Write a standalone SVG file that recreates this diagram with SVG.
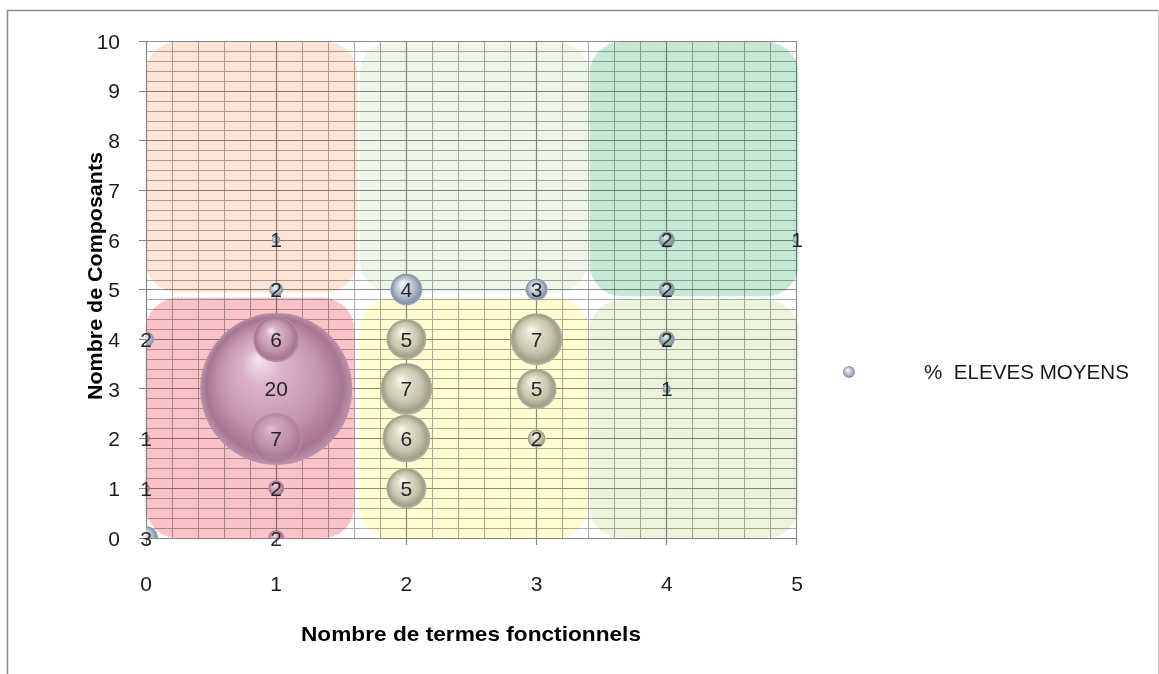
<svg xmlns="http://www.w3.org/2000/svg" width="1159" height="674" viewBox="0 0 1159 674">
<style>
.num{font-family:"Liberation Sans",Arial,sans-serif;font-size:21px;fill:#1a1a1a}
.lbl{font-family:"Liberation Sans",Arial,sans-serif;font-size:21px;fill:#262626;text-anchor:middle}
.ttl{font-family:"Liberation Sans",Arial,sans-serif;font-size:21px;font-weight:bold;fill:#000;text-anchor:middle}
.zone{mix-blend-mode:multiply;stroke-width:1.5;stroke-dasharray:1.5 1.5}
</style>
<defs>
<clipPath id="plot"><rect x="146" y="41" width="651" height="497"/></clipPath>
<radialGradient id="gB" cx="50%" cy="50%" r="50%" fx="38%" fy="30%">
<stop offset="0" stop-color="#FFFFFF"/><stop offset="0.25" stop-color="#DDE3EC"/><stop offset="0.65" stop-color="#AEB8C9"/><stop offset="0.9" stop-color="#8693A8"/><stop offset="1" stop-color="#A3ADBD"/>
</radialGradient>
<radialGradient id="gP" cx="50%" cy="50%" r="50%" fx="38%" fy="30%">
<stop offset="0" stop-color="#F6E6EE"/><stop offset="0.25" stop-color="#DDB4CA"/><stop offset="0.65" stop-color="#C495AF"/><stop offset="0.9" stop-color="#A67590"/><stop offset="1" stop-color="#BC93AA"/>
</radialGradient>
<radialGradient id="gO" cx="50%" cy="50%" r="50%" fx="38%" fy="30%">
<stop offset="0" stop-color="#FBFBF0"/><stop offset="0.25" stop-color="#E2E2CE"/><stop offset="0.65" stop-color="#C6C7AE"/><stop offset="0.9" stop-color="#9FA08A"/><stop offset="1" stop-color="#B5B6A2"/>
</radialGradient>
<radialGradient id="gT" cx="50%" cy="50%" r="50%" fx="38%" fy="30%">
<stop offset="0" stop-color="#F5FAFA"/><stop offset="0.3" stop-color="#BDD0D3"/><stop offset="0.7" stop-color="#8CA5AA"/><stop offset="1" stop-color="#7A9298"/>
</radialGradient>
</defs>
<rect width="1159" height="674" fill="#FFFFFF"/>
<path d="M7.5 674 V10.5 H1158" fill="none" stroke="#8C8C8C" stroke-width="1.5"/>
<path d="M1158.5 10 V674" fill="none" stroke="#C8C8C8" stroke-width="1"/>

<g id="grid" fill="none">
<path stroke="#ADADAD" stroke-width="1" d="M172.5 41V538M198.5 41V538M224.5 41V538M250.5 41V538M302.5 41V538M328.5 41V538M354.5 41V538M380.5 41V538M432.5 41V538M458.5 41V538M484.5 41V538M510.5 41V538M562.5 41V538M588.5 41V538M614.5 41V538M640.5 41V538M692.5 41V538M718.5 41V538M744.5 41V538M770.5 41V538
M146 51.5H797M146 61.5H797M146 71.5H797M146 81.5H797M146 101.5H797M146 111.5H797M146 121.5H797M146 130.5H797M146 150.5H797M146 160.5H797M146 170.5H797M146 180.5H797M146 200.5H797M146 210.5H797M146 220.5H797M146 230.5H797M146 250.5H797M146 260.5H797M146 270.5H797M146 280.5H797M146 299.5H797M146 309.5H797M146 319.5H797M146 329.5H797M146 349.5H797M146 359.5H797M146 369.5H797M146 378.5H797M146 398.5H797M146 408.5H797M146 418.5H797M146 428.5H797M146 448.5H797M146 458.5H797M146 468.5H797M146 478.5H797M146 498.5H797M146 508.5H797M146 518.5H797M146 528.5H797"/>
<path stroke="#8A8A8A" stroke-width="1.2" d="M276.5 41V538M406.5 41V538M536.5 41V538M666.5 41V538M796.5 41V538
M146 41.5H797M146 91.5H797M146 140.5H797M146 190.5H797M146 240.5H797M146 289.5H797M146 339.5H797M146 388.5H797M146 438.5H797M146 488.5H797"/>
</g>

<g id="zones">
<rect id="zone-tl" class="zone" x="146" y="42" width="211" height="250" rx="32" fill="#FCE4D6" stroke="#FCE4D6"/>
<rect id="zone-tm" class="zone" x="360" y="42" width="228" height="250" rx="32" fill="#EEF6EA" stroke="#EEF6EA"/>
<rect id="zone-tr" class="zone" x="590" y="42" width="208" height="254" rx="32" fill="#C6E9D5" stroke="#C6E9D5"/>
<rect id="zone-bl" class="zone" x="146" y="298" width="208" height="240" rx="32" fill="#F9C3C9" stroke="#F9C3C9"/>
<rect id="zone-bm" class="zone" x="360" y="298" width="228" height="240" rx="32" fill="#FFFDD2" stroke="#FFFDD2"/>
<rect id="zone-br" class="zone" x="590" y="300" width="208" height="238" rx="32" fill="#EBF3DD" stroke="#EBF3DD"/>
</g>

<g id="axes" fill="none" stroke="#868686" stroke-width="1.2">
<path d="M146.5 41V538M146 538.5H797"/>
<path d="M139 41.5H146M139 91.5H146M139 140.5H146M139 190.5H146M139 240.5H146M139 289.5H146M139 339.5H146M139 388.5H146M139 438.5H146M139 488.5H146M139 538.5H146"/>
<path d="M146.5 538V545M276.5 538V545M406.5 538V545M536.5 538V545M666.5 538V545M796.5 538V545"/>
</g>

<g id="y-labels" class="num" text-anchor="end">
<text x="120" y="48.5">10</text><text x="120" y="98">9</text><text x="120" y="148">8</text><text x="120" y="197.5">7</text><text x="120" y="247.5">6</text><text x="120" y="297">5</text><text x="120" y="346.5">4</text><text x="120" y="396.5">3</text><text x="120" y="446">2</text><text x="120" y="496">1</text><text x="120" y="545.5">0</text>
</g>
<g id="x-labels" class="num" text-anchor="middle">
<text x="146" y="590.5">0</text><text x="276.2" y="590.5">1</text><text x="406.4" y="590.5">2</text><text x="536.6" y="590.5">3</text><text x="666.8" y="590.5">4</text><text x="797" y="590.5">5</text>
</g>

<g id="bubbles" clip-path="url(#plot)">
<circle cx="146" cy="538" r="12" fill="url(#gB)"/>
<circle cx="146" cy="339.2" r="8" fill="url(#gB)"/>
<circle cx="146" cy="438.6" r="4" fill="url(#gP)"/>
<circle cx="146" cy="488.3" r="4" fill="url(#gP)"/>
<circle cx="276.2" cy="388.9" r="76" fill="url(#gP)"/>
<circle cx="276.2" cy="438.6" r="26" fill="url(#gP)" opacity="0.55"/>
<circle cx="276.2" cy="339.2" r="23" fill="url(#gP)"/>
<circle cx="276.2" cy="488.3" r="8" fill="url(#gP)"/>
<circle cx="276.2" cy="538" r="8" fill="url(#gP)"/>
<circle cx="276.2" cy="289.5" r="7" fill="url(#gB)"/>
<circle cx="276.2" cy="239.8" r="4" fill="url(#gB)"/>
<circle cx="406.4" cy="289.5" r="16" fill="url(#gB)"/>
<circle cx="406.4" cy="339.2" r="20" fill="url(#gO)"/>
<circle cx="406.4" cy="388.9" r="26" fill="url(#gO)"/>
<circle cx="406.4" cy="438.6" r="24" fill="url(#gO)"/>
<circle cx="406.4" cy="488.3" r="20" fill="url(#gO)"/>
<circle cx="536.6" cy="289.5" r="11" fill="url(#gB)"/>
<circle cx="536.6" cy="339.2" r="26" fill="url(#gO)"/>
<circle cx="536.6" cy="388.9" r="20" fill="url(#gO)"/>
<circle cx="536.6" cy="438.6" r="9" fill="url(#gO)"/>
<circle cx="666.8" cy="239.8" r="8" fill="url(#gT)"/>
<circle cx="666.8" cy="289.5" r="8" fill="url(#gT)"/>
<circle cx="666.8" cy="339.2" r="8" fill="url(#gT)"/>
<circle cx="666.8" cy="388.9" r="4" fill="url(#gT)"/>
<circle cx="797" cy="239.8" r="4" fill="url(#gT)"/>
</g>

<g id="data-labels" class="lbl">
<text x="146" y="545.5">3</text>
<text x="146" y="346.7">2</text>
<text x="146" y="446.1">1</text>
<text x="146" y="495.8">1</text>
<text x="276.2" y="396.4">20</text>
<text x="276.2" y="446.1">7</text>
<text x="276.2" y="346.7">6</text>
<text x="276.2" y="495.8">2</text>
<text x="276.2" y="545.5">2</text>
<text x="276.2" y="297">2</text>
<text x="276.2" y="247.3">1</text>
<text x="406.4" y="297">4</text>
<text x="406.4" y="346.7">5</text>
<text x="406.4" y="396.4">7</text>
<text x="406.4" y="446.1">6</text>
<text x="406.4" y="495.8">5</text>
<text x="536.6" y="297">3</text>
<text x="536.6" y="346.7">7</text>
<text x="536.6" y="396.4">5</text>
<text x="536.6" y="446.1">2</text>
<text x="666.8" y="247.3">2</text>
<text x="666.8" y="297">2</text>
<text x="666.8" y="346.7">2</text>
<text x="666.8" y="396.4">1</text>
<text x="797" y="247.3">1</text>
</g>

<g id="axis-titles">
<text class="ttl" x="471" y="641" textLength="340" lengthAdjust="spacingAndGlyphs">Nombre de termes fonctionnels</text>
<text class="ttl" transform="translate(102 276) rotate(-90)" x="0" y="0" textLength="248" lengthAdjust="spacingAndGlyphs">Nombre de Composants</text>
</g>

<g id="legend">
<circle cx="849" cy="372" r="6" fill="url(#gB)"/>
<text x="924" y="379" xml:space="preserve" font-family="Liberation Sans, Arial, sans-serif" font-size="20" fill="#1a1a1a" textLength="205" lengthAdjust="spacingAndGlyphs">%  ELEVES MOYENS</text>
</g>
</svg>
